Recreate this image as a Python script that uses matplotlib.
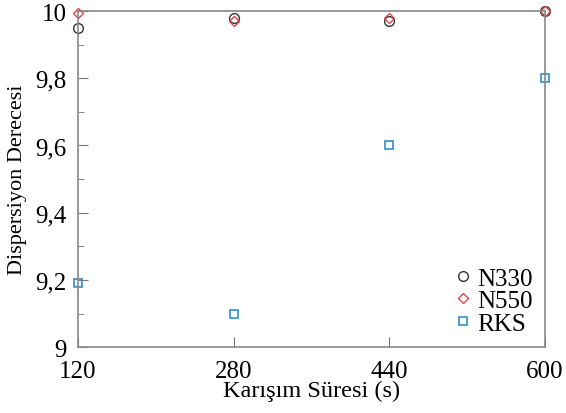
import numpy as np
import matplotlib.pyplot as plt
from matplotlib.ticker import FixedLocator

plt.rcParams['font.family'] = ['Liberation Serif', 'DejaVu Serif']

sure = [120, 280, 440, 600]
n330 = [9.95, 9.98, 9.97, 10.0]
n550 = [9.995, 9.97, 9.98, 10.0]
rks = [9.19, 9.10, 9.60, 9.80]
yticks = [9.0, 9.2, 9.4, 9.6, 9.8, 10.0]
ylabels = ['9', '9,2', '9,4', '9,6', '9,8', '10']
yminor = [9.1, 9.3, 9.5, 9.7, 9.9]

fig = plt.figure(figsize=(5.66, 4.14), dpi=100)
ax = fig.add_axes([0.138, 0.159, 0.825, 0.812])

ax.plot(sure, n330, 'o', ms=7, mfc='none', mec='#333333', mew=1.0, label='N330', clip_on=False)
ax.plot(sure, n550, 'D', ms=5.5, mfc='none', mec='#e0474c', mew=1.0, label='N550', clip_on=False)
ax.plot(sure, rks, 's', ms=6, mfc='none', mec='#2f8fd0', mew=1.2, label='RKS', clip_on=False)

ax.set_xlim(120, 600)
ax.set_ylim(9, 10)
ax.xaxis.set_major_locator(FixedLocator(sure))
ax.yaxis.set_major_locator(FixedLocator(yticks))
ax.yaxis.set_minor_locator(FixedLocator(yminor))
ax.set_yticklabels(ylabels)
ax.tick_params(direction='in', labelsize=18, length=7, color='#777777', pad=8)
ax.tick_params(which='minor', direction='in', length=4, color='#777777')
ax.tick_params(axis='x', pad=9)
for s in ax.spines.values():
    s.set_color('#888888')
    s.set_linewidth(1.2)

ax.set_xlabel('Karışım Süresi (s)', fontsize=17.5, labelpad=-1)
ax.set_ylabel('Dispersiyon Derecesi', fontsize=16, labelpad=6)

ax.legend(loc='lower right', frameon=False, fontsize=18, handletextpad=0.0,
          borderaxespad=0.1, labelspacing=0.0, handlelength=1.1)

plt.savefig('out.png')
